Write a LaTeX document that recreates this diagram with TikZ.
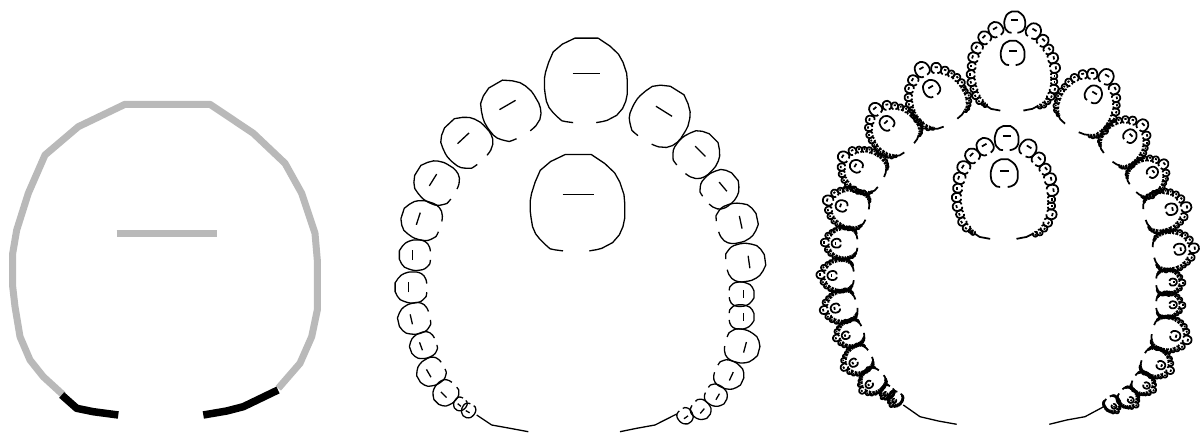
\documentclass[tikz,border=0pt]{standalone}
\definecolor{ringgray}{HTML}{B9B9B9}
\tikzset{
  thinline/.style={draw=black,line width=1.3pt,line join=round},
  denseline/.style={thinline/.style={draw=black,line width=1.75pt,line join=round}},
  grayring/.style={draw=ringgray,line width=7pt,line join=round},
  blackarc/.style={draw=black,line width=7.5pt,line join=round},
}
% outline of the motif, in the coordinates of the left panel
\newcommand\arcLpts{(118.3,415)--(93.3,411.7)--(76.7,408.3)--(61.7,395)}
\newcommand\arcRpts{(203.3,415)--(226.7,411)--(243.3,406.7)--(278,390)}
\newcommand\ringpts{(63.3,395)--(43.3,376.7)--(30,360)--(20,336.7)--(15,306.7)--(12.7,286.7)--(12.7,253.3)--(16.7,230)--(28.3,193.3)--(45,155)--(78.3,126.7)--(125,104.3)--(210,104.3)--(253.3,133.3)--(285,163.3)--(301.7,193.3)--(315,233.3)--(317.3,260)--(317.3,310)--(311.7,336.7)--(300,363.3)--(278.3,388.3)}
\newcommand\dashpts{(116.7,233.7)--(216.7,233.7)}
\newcommand\motif{%
  \draw[thinline] (118.3,415)--(93.3,411.7)--(76.7,408.3)--(61.7,395)--(43.3,376.7)--(30,360)--(20,336.7)--(15,306.7)--(12.7,286.7)--(12.7,253.3)--(16.7,230)--(28.3,193.3)--(45,155)--(78.3,126.7)--(125,104.3)--(210,104.3)--(253.3,133.3)--(285,163.3)--(301.7,193.3)--(315,233.3)--(317.3,260)--(317.3,310)--(311.7,336.7)--(300,363.3)--(278.3,388.3)--(243.3,406.7)--(226.7,411)--(203.3,415);
  \draw[thinline] \dashpts;}
\newcommand\bead[5]{\begin{scope}[shift={(#1,#2)},rotate=#3,scale=#4,shift={(-166.7,-233.7)}]#5\end{scope}}
% all copies, positions as in the middle panel
\newcommand\allbeads[1]{%
  \bead{586.3}{73.3}{0}{.272}{#1}%
  \bead{578}{194.7}{0}{.31}{#1}%
  \bead{507.5}{105}{30}{.186}{#1}%
  \bead{463.3}{138.3}{43}{.158}{#1}%
  \bead{433}{180}{58}{.139}{#1}%
  \bead{418.3}{218.7}{72}{.128}{#1}%
  \bead{412.3}{255}{90}{.1}{#1}%
  \bead{408.3}{287.3}{90}{.102}{#1}%
  \bead{411.3}{319.3}{103}{.102}{#1}%
  \bead{421}{346.3}{110}{.085}{#1}%
  \bead{428.7}{373.3}{120}{.09}{#1}%
  \bead{443.7}{394.7}{135}{.08}{#1}%
  \bead{459.3}{405}{140}{.042}{#1}%
  \bead{467.7}{411.7}{150}{.045}{#1}%
  \bead{664}{111.3}{-32}{.19}{#1}%
  \bead{700.3}{151.3}{-45}{.145}{#1}%
  \bead{723}{186.7}{-50}{.12}{#1}%
  \bead{740.7}{222.3}{-78}{.13}{#1}%
  \bead{749}{262}{-82}{.125}{#1}%
  \bead{743.7}{294.3}{-90}{.08}{#1}%
  \bead{743.7}{317}{-90}{.08}{#1}%
  \bead{745}{347.3}{-105}{.11}{#1}%
  \bead{731.3}{376.3}{-115}{.093}{#1}%
  \bead{717.7}{396.7}{-120}{.07}{#1}%
  \bead{702.3}{411}{-130}{.063}{#1}%
  \bead{686}{417.3}{-145}{.05}{#1}%
}
\newcommand\midarcs{%
  \draw[thinline] (476.7,415)--(491.7,425)--(510,428.3)--(528.3,431.7);
  \draw[thinline] (620,431.7)--(636.7,428.3)--(655,425)--(676.7,414);}
% middle-panel contents brought back to the motif's frame
\newcommand\secondlevel{%
  \begin{scope}[shift={(166.7,233.7)},scale=.926,shift={(-580,-236)}]
    \midarcs
    \allbeads{\motif}
  \end{scope}}
\begin{document}
\begin{tikzpicture}[x=1pt,y=-1pt]
  \useasboundingbox (0,0) rectangle (1202,433);
  \fill[white] (0,0) rectangle (1202,433);
  % left panel
  \draw[grayring] \ringpts;
  \draw[grayring] \dashpts;
  \draw[blackarc] \arcLpts;
  \draw[blackarc] \arcRpts;
  % middle panel
  \midarcs
  \allbeads{\motif}
  % right panel
  \draw[thinline] (903.3,405)--(920,416.7)--(938.3,421)--(956.7,424.3);
  \draw[thinline] (1049.3,424.3)--(1066.7,420)--(1085,416.7)--(1105,406);
  \begin{scope}[shift={(427,-12)},denseline]
    \allbeads{\secondlevel}
  \end{scope}
\end{tikzpicture}
\end{document}
